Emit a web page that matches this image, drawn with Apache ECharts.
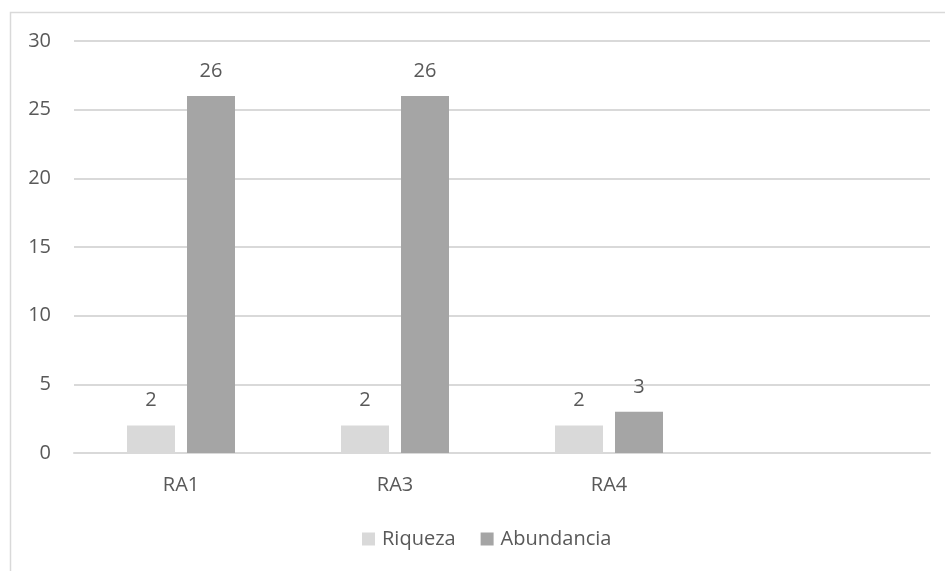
<!DOCTYPE html>
<html>
<head>
<meta charset="utf-8">
<title>Riqueza y Abundancia</title>
<script src="https://cdn.jsdelivr.net/npm/echarts@6/dist/echarts.min.js"></script>
<style>
  html, body { margin: 0; padding: 0; background: #ffffff; }
  #chart { width: 945px; height: 571px; }
</style>
</head>
<body>
<div id="chart"></div>
<script>
// Sampling sites (the last slot is left empty on purpose)
const categories = ['RA1', 'RA3', 'RA4', ''];
const riqueza = [2, 2, 2, null];
const abundancia = [26, 26, 3, null];
const yTicks = [0, 5, 10, 15, 20, 25, 30];

const textColor = '#595959';
const fontFamily = '"Open Sans", "Noto Sans", sans-serif';
const fontSize = 20;

const chart = echarts.init(document.getElementById('chart'), null, { renderer: 'canvas' });

const barLabel = {
  show: true,
  position: 'top',
  distance: 15,
  color: textColor,
  fontFamily: fontFamily,
  fontSize: fontSize
};

chart.setOption({
  animation: false,
  backgroundColor: '#ffffff',
  graphic: [{
    type: 'rect',
    shape: { x: 10.5, y: 12.5, width: 1200, height: 1200 },
    style: { fill: 'none', stroke: '#d9d9d9', lineWidth: 1.5 },
    silent: true,
    z: -1
  }],
  grid: { left: 74, right: 15, top: 41, bottom: 118, containLabel: false },
  legend: {
    top: 524,
    left: 357,
    itemWidth: 13,
    itemHeight: 13,
    itemGap: 25,
    icon: 'rect',
    textStyle: { color: textColor, fontFamily: fontFamily, fontSize: fontSize, padding: [0, 0, 0, 2] },
    data: ['Riqueza', 'Abundancia']
  },
  xAxis: {
    type: 'category',
    data: categories,
    axisLine: { show: true, lineStyle: { color: '#d9d9d9', width: 2 } },
    axisTick: { show: false },
    axisLabel: { color: textColor, fontFamily: fontFamily, fontSize: fontSize, margin: 22 }
  },
  yAxis: {
    type: 'value',
    min: yTicks[0],
    max: yTicks[yTicks.length - 1],
    interval: yTicks[1] - yTicks[0],
    axisLine: { show: false },
    axisTick: { show: false },
    axisLabel: { color: textColor, fontFamily: fontFamily, fontSize: fontSize, margin: 23 },
    splitLine: { lineStyle: { color: '#d9d9d9', width: 2 } }
  },
  series: [
    {
      name: 'Riqueza',
      type: 'bar',
      data: riqueza,
      barWidth: 48,
      barGap: '25%',
      itemStyle: { color: '#d9d9d9' },
      label: barLabel
    },
    {
      name: 'Abundancia',
      type: 'bar',
      data: abundancia,
      barWidth: 48,
      barGap: '25%',
      itemStyle: { color: '#a5a5a5' },
      label: barLabel
    }
  ]
});
</script>
</body>
</html>
